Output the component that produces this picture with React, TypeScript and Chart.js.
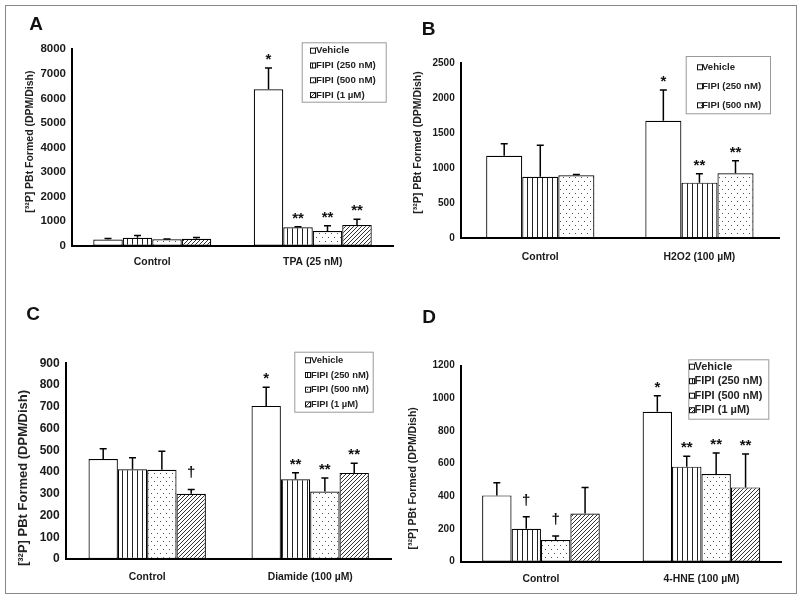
import React, { useEffect, useRef } from 'react';
import { Chart, registerables } from 'chart.js';

Chart.register(...registerables);

const FONT = '"Liberation Sans", Arial, Helvetica, sans-serif';
const Y_TITLE = '[³²P] PBt Formed (DPM/Dish)';

// ---------- Panel A ----------
const A_CATEGORIES = ['Control', 'TPA (25 nM)'];
const A_SERIES = ['Vehicle', 'FIPI (250 nM)', 'FIPI (500 nM)', 'FIPI (1 µM)'];
const A_VEHICLE = [250, 6370];
const A_FIPI250 = [320, 750];
const A_FIPI500 = [260, 600];
const A_FIPI1 = [280, 840];
const A_ERR_VEHICLE = [40, 870];
const A_ERR_FIPI250 = [100, 25];
const A_ERR_FIPI500 = [15, 215];
const A_ERR_FIPI1 = [50, 235];
const A_MARK_VEHICLE = ['', '*'];
const A_MARK_FIPI250 = ['', '**'];
const A_MARK_FIPI500 = ['', '**'];
const A_MARK_FIPI1 = ['', '**'];
const A_Y_MAX = 8000;
const A_Y_STEP = 1000;

// ---------- Panel B ----------
const B_CATEGORIES = ['Control', 'H2O2 (100 µM)'];
const B_SERIES = ['Vehicle', 'FIPI (250 nM)', 'FIPI (500 nM)'];
const B_VEHICLE = [1180, 1680];
const B_FIPI250 = [880, 795];
const B_FIPI500 = [900, 929];
const B_ERR_VEHICLE = [170, 440];
const B_ERR_FIPI250 = [450, 128];
const B_ERR_FIPI500 = [10, 180];
const B_MARK_VEHICLE = ['', '*'];
const B_MARK_FIPI250 = ['', '**'];
const B_MARK_FIPI500 = ['', '**'];
const B_Y_MAX = 2500;
const B_Y_STEP = 500;

// ---------- Panel C ----------
const C_CATEGORIES = ['Control', 'Diamide (100 µM)'];
const C_SERIES = ['Vehicle', 'FIPI (250 nM)', 'FIPI (500 nM)', 'FIPI (1 µM)'];
const C_VEHICLE = [460, 704];
const C_FIPI250 = [413, 367];
const C_FIPI500 = [410, 310];
const C_FIPI1 = [300, 396];
const C_ERR_VEHICLE = [47, 86];
const C_ERR_FIPI250 = [53, 30];
const C_ERR_FIPI500 = [85, 62];
const C_ERR_FIPI1 = [20, 44];
const C_MARK_VEHICLE = ['', '*'];
const C_MARK_FIPI250 = ['', '**'];
const C_MARK_FIPI500 = ['', '**'];
const C_MARK_FIPI1 = ['†', '**'];
const C_Y_MAX = 900;
const C_Y_STEP = 100;

// ---------- Panel D ----------
const D_CATEGORIES = ['Control', '4-HNE (100 µM)'];
const D_SERIES = ['Vehicle', 'FIPI (250 nM)', 'FIPI (500 nM)', 'FIPI (1 µM)'];
const D_VEHICLE = [406, 918];
const D_FIPI250 = [201, 582];
const D_FIPI500 = [133, 537];
const D_FIPI1 = [295, 455];
const D_ERR_VEHICLE = [78, 98];
const D_ERR_FIPI250 = [74, 63];
const D_ERR_FIPI500 = [25, 128];
const D_ERR_FIPI1 = [160, 204];
const D_MARK_VEHICLE = ['', '*'];
const D_MARK_FIPI250 = ['†', '**'];
const D_MARK_FIPI500 = ['†', '**'];
const D_MARK_FIPI1 = ['', '**'];
const D_Y_MAX = 1200;
const D_Y_STEP = 200;

type PatternKind = 'white' | 'vlines' | 'dots' | 'diag';
const PATTERN_ORDER: PatternKind[] = ['white', 'vlines', 'dots', 'diag'];

function makeFill(kind: PatternKind, ctx: CanvasRenderingContext2D): string | CanvasPattern {
  if (kind === 'white') return '#ffffff';
  const tile = document.createElement('canvas');
  const t = tile.getContext('2d')!;
  if (kind === 'vlines') {
    tile.width = 5; tile.height = 4;
    t.fillStyle = '#fff'; t.fillRect(0, 0, 5, 4);
    t.fillStyle = '#222'; t.fillRect(2, 0, 1, 4);
  } else if (kind === 'dots') {
    tile.width = 6; tile.height = 8;
    t.fillStyle = '#fff'; t.fillRect(0, 0, 6, 8);
    t.fillStyle = '#555';
    t.fillRect(1, 1, 1, 1);
    t.fillRect(4, 5, 1, 1);
  } else {
    tile.width = 4; tile.height = 4;
    t.fillStyle = '#fff'; t.fillRect(0, 0, 4, 4);
    t.strokeStyle = '#333'; t.lineWidth = 1;
    t.beginPath();
    t.moveTo(-1, 5); t.lineTo(5, -1);
    t.moveTo(-1, 1); t.lineTo(1, -1);
    t.moveTo(3, 5); t.lineTo(5, 3);
    t.stroke();
  }
  return ctx.createPattern(tile, 'repeat') as CanvasPattern;
}

type LegendCfg = { x: number; y: number; w: number; h: number; rowY: number; rowGap: number; swatchX: number; textX: number; size: number };
type PanelCfg = {
  left: number; top: number;
  letter: string; letterX: number; letterY: number;
  titleX: number; titleY: number; titleSize: number;
  area: { l: number; t: number; r: number; b: number };
  catPct: number;
  yMax: number; yStep: number; yTickSize: number; xTickPad: number;
  categories: string[]; series: string[];
  values: number[][]; errors: number[][]; marks: string[][];
  legend: LegendCfg;
};

const PANELS: PanelCfg[] = [
  {
    left: 0, top: 0, letter: 'A', letterX: 36, letterY: 25,
    titleX: 29.7, titleY: 141.7, titleSize: 10.5,
    area: { l: 72, t: 49.3, r: 393, b: 245.7 }, catPct: 0.735,
    yMax: A_Y_MAX, yStep: A_Y_STEP, yTickSize: 11.5, xTickPad: 10.5,
    categories: A_CATEGORIES, series: A_SERIES,
    values: [A_VEHICLE, A_FIPI250, A_FIPI500, A_FIPI1],
    errors: [A_ERR_VEHICLE, A_ERR_FIPI250, A_ERR_FIPI500, A_ERR_FIPI1],
    marks: [A_MARK_VEHICLE, A_MARK_FIPI250, A_MARK_FIPI500, A_MARK_FIPI1],
    legend: { x: 301.7, y: 42.3, w: 84, h: 59.4, rowY: 50.7, rowGap: 14.8, swatchX: 310.5, textX: 316, size: 9.7 },
  },
  {
    left: 400, top: 0, letter: 'B', letterX: 28.5, letterY: 30,
    titleX: 17.7, titleY: 142.5, titleSize: 10.5,
    area: { l: 60.7, t: 63.3, r: 379, b: 238.3 }, catPct: 0.68,
    yMax: B_Y_MAX, yStep: B_Y_STEP, yTickSize: 10, xTickPad: 12.3,
    categories: B_CATEGORIES, series: B_SERIES,
    values: [B_VEHICLE, B_FIPI250, B_FIPI500],
    errors: [B_ERR_VEHICLE, B_ERR_FIPI250, B_ERR_FIPI500],
    marks: [B_MARK_VEHICLE, B_MARK_FIPI250, B_MARK_FIPI500],
    legend: { x: 285.7, y: 56, w: 84.3, h: 57.3, rowY: 67.3, rowGap: 19, swatchX: 297.5, textX: 302, size: 9.6 },
  },
  {
    left: 0, top: 300, letter: 'C', letterX: 33, letterY: 15,
    titleX: 23.3, titleY: 178, titleSize: 13,
    area: { l: 65.7, t: 63.3, r: 391.7, b: 259 }, catPct: 0.72,
    yMax: C_Y_MAX, yStep: C_Y_STEP, yTickSize: 12, xTickPad: 11.5,
    categories: C_CATEGORIES, series: C_SERIES,
    values: [C_VEHICLE, C_FIPI250, C_FIPI500, C_FIPI1],
    errors: [C_ERR_VEHICLE, C_ERR_FIPI250, C_ERR_FIPI500, C_ERR_FIPI1],
    marks: [C_MARK_VEHICLE, C_MARK_FIPI250, C_MARK_FIPI500, C_MARK_FIPI1],
    legend: { x: 294.3, y: 51.7, w: 78.4, h: 60, rowY: 60.3, rowGap: 14.7, swatchX: 305.5, textX: 311, size: 9.4 },
  },
  {
    left: 400, top: 300, letter: 'D', letterX: 29, letterY: 17.5,
    titleX: 13.3, titleY: 178.3, titleSize: 10.5,
    area: { l: 60.7, t: 65.7, r: 381.7, b: 261.7 }, catPct: 0.733,
    yMax: D_Y_MAX, yStep: D_Y_STEP, yTickSize: 10, xTickPad: 11.5,
    categories: D_CATEGORIES, series: D_SERIES,
    values: [D_VEHICLE, D_FIPI250, D_FIPI500, D_FIPI1],
    errors: [D_ERR_VEHICLE, D_ERR_FIPI250, D_ERR_FIPI500, D_ERR_FIPI1],
    marks: [D_MARK_VEHICLE, D_MARK_FIPI250, D_MARK_FIPI500, D_MARK_FIPI1],
    legend: { x: 288.3, y: 59.3, w: 80, h: 59.4, rowY: 66.7, rowGap: 14.5, swatchX: 289.5, textX: 294.5, size: 11 },
  },
];

const W = 400;
const H = 300;
const X_AXIS_H = 30;

function makeDecor(cfg: PanelCfg, fills: (string | CanvasPattern)[]) {
  return {
    id: 'decor',
    afterDatasetsDraw(chart: any) {
      const ctx: CanvasRenderingContext2D = chart.ctx;
      const ys = chart.scales.y;
      ctx.save();
      chart.data.datasets.forEach((ds: any, i: number) => {
        const meta = chart.getDatasetMeta(i);
        meta.data.forEach((bar: any, j: number) => {
          const v = ds.data[j];
          const e = cfg.errors[i][j];
          const x = bar.x;
          const yErr = ys.getPixelForValue(v + e);
          ctx.strokeStyle = '#000';
          ctx.lineWidth = 1.5;
          ctx.beginPath();
          ctx.moveTo(x, bar.y);
          ctx.lineTo(x, yErr);
          ctx.moveTo(x - 3.5, yErr);
          ctx.lineTo(x + 3.5, yErr);
          ctx.stroke();
          const m = cfg.marks[i][j];
          if (m) {
            ctx.font = `bold 15px ${FONT}`;
            ctx.textAlign = 'center';
            ctx.textBaseline = 'alphabetic';
            ctx.fillStyle = '#111';
            ctx.fillText(m, x, yErr - (m === '†' ? 12 : 4));
          }
        });
      });
      ctx.restore();
    },
    afterDraw(chart: any) {
      const ctx: CanvasRenderingContext2D = chart.ctx;
      ctx.save();
      // panel letter
      ctx.fillStyle = '#111';
      ctx.font = `bold 19px ${FONT}`;
      ctx.textAlign = 'center';
      ctx.textBaseline = 'middle';
      ctx.fillText(cfg.letter, cfg.letterX, cfg.letterY);
      // y title
      ctx.save();
      ctx.translate(cfg.titleX, cfg.titleY);
      ctx.rotate(-Math.PI / 2);
      ctx.font = `bold ${cfg.titleSize}px ${FONT}`;
      ctx.fillStyle = '#222';
      ctx.fillText(Y_TITLE, 0, 0);
      ctx.restore();
      // legend
      const L = cfg.legend;
      ctx.fillStyle = '#fff';
      ctx.fillRect(L.x, L.y, L.w, L.h);
      ctx.strokeStyle = '#999';
      ctx.lineWidth = 1;
      ctx.strokeRect(L.x + 0.5, L.y + 0.5, L.w, L.h);
      cfg.series.forEach((name, i) => {
        const ry = L.rowY + i * L.rowGap;
        const s = 5;
        ctx.fillStyle = fills[i] as any;
        ctx.fillRect(L.swatchX, ry - s / 2, s, s);
        ctx.strokeStyle = '#111';
        ctx.lineWidth = 1;
        ctx.strokeRect(L.swatchX, ry - s / 2, s, s);
        ctx.fillStyle = '#222';
        ctx.font = `bold ${L.size}px ${FONT}`;
        ctx.textAlign = 'left';
        ctx.textBaseline = 'middle';
        ctx.fillText(name, L.textX, ry);
      });
      ctx.restore();
    },
  };
}

function Panel({ cfg }: { cfg: PanelCfg }) {
  const ref = useRef<HTMLCanvasElement>(null);
  useEffect(() => {
    const canvas = ref.current!;
    const ctx = canvas.getContext('2d')!;
    const fills = cfg.series.map((_, i) => makeFill(PATTERN_ORDER[i], ctx));
    const a = cfg.area;
    const chart = new Chart(canvas, {
      type: 'bar',
      data: {
        labels: cfg.categories,
        datasets: cfg.series.map((name, i) => ({
          label: name,
          data: cfg.values[i],
          backgroundColor: fills[i] as any,
          borderColor: '#000',
          borderWidth: 1.2,
          borderSkipped: false as any,
          categoryPercentage: cfg.catPct,
          barPercentage: 1,
        })),
      },
      options: {
        animation: false,
        responsive: false,
        devicePixelRatio: 1,
        layout: { padding: { left: 0, top: a.t, right: W - a.r, bottom: H - a.b - X_AXIS_H } },
        plugins: { legend: { display: false }, tooltip: { enabled: false }, title: { display: false } },
        scales: {
          x: {
            grid: { display: false, drawTicks: false },
            border: { display: true, color: '#000', width: 2 },
            ticks: { color: '#1a1a1a', padding: cfg.xTickPad, font: { family: FONT, size: 10.4, weight: 'bold' } },
            afterFit: (s: any) => { s.height = X_AXIS_H; },
          },
          y: {
            min: 0,
            max: cfg.yMax,
            grid: { display: false, drawTicks: false },
            border: { display: true, color: '#000', width: 2 },
            ticks: {
              stepSize: cfg.yStep,
              color: '#1a1a1a',
              padding: 6,
              font: { family: FONT, size: cfg.yTickSize, weight: 'bold' },
              callback: (v: any) => String(v),
            },
            afterFit: (s: any) => { s.width = a.l; },
          },
        },
      } as any,
      plugins: [makeDecor(cfg, fills)],
    });
    return () => chart.destroy();
  }, [cfg]);
  return (
    <div style={{ position: 'absolute', left: cfg.left, top: cfg.top, width: W, height: H }}>
      <canvas ref={ref} width={W} height={H} style={{ width: W, height: H, display: 'block' }} />
    </div>
  );
}

export default function App() {
  return (
    <div style={{ position: 'absolute', left: 0, top: 0, width: 800, height: 600, background: '#fff' }}>
      <div
        style={{
          position: 'absolute', left: 5, top: 5, width: 792, height: 589,
          border: '1px solid #888', boxSizing: 'border-box',
        }}
      />
      {PANELS.map((p) => (
        <Panel key={p.letter} cfg={p} />
      ))}
    </div>
  );
}
